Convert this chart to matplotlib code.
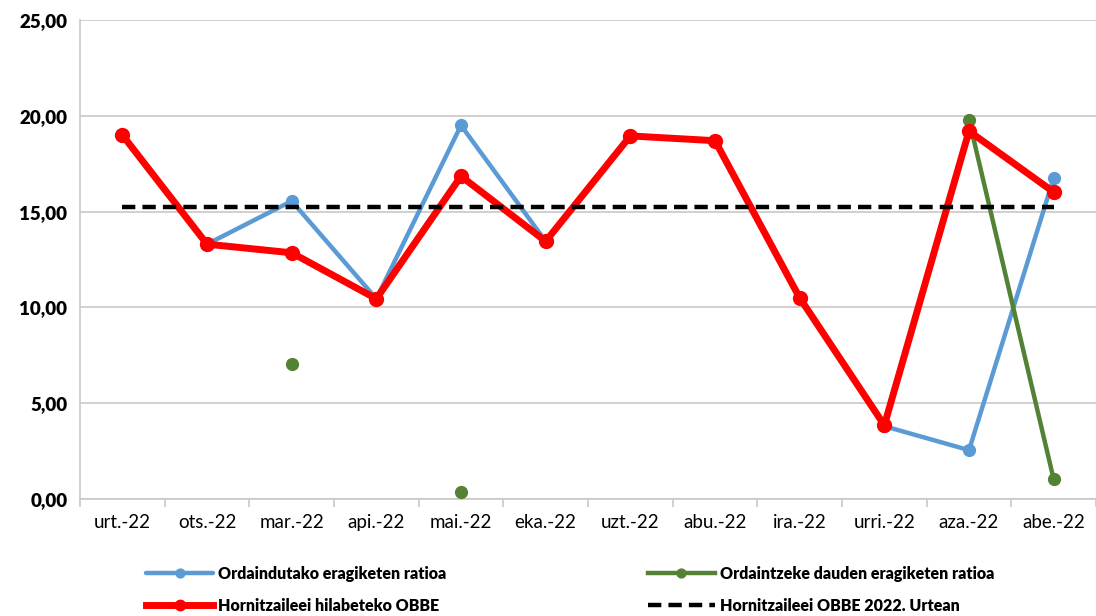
import numpy as np
import matplotlib
matplotlib.use("Agg")
import matplotlib.pyplot as plt

months = ["urt.-22", "ots.-22", "mar.-22", "api.-22", "mai.-22", "eka.-22",
          "uzt.-22", "abu.-22", "ira.-22", "urri.-22", "aza.-22", "abe.-22"]
ordaindutako = [19.0, 13.3, 15.55, 10.45, 19.5, 13.45, 18.95, 18.7, 10.5, 3.8, 2.55, 16.75]
ordaintzeke = [np.nan, np.nan, 7.05, np.nan, 0.37, np.nan, np.nan, np.nan, np.nan, np.nan, 19.8, 1.03]
hilabeteko = [19.0, 13.3, 12.85, 10.45, 16.85, 13.45, 18.95, 18.7, 10.5, 3.85, 19.2, 16.02]
urtean = [15.22] * 12
yticks = [0, 5, 10, 15, 20, 25]
ytick_labels = ["0,00", "5,00", "10,00", "15,00", "20,00", "25,00"]

plt.rcParams['font.family'] = ['Lato', 'DejaVu Sans']

fig = plt.figure(figsize=(10.96, 6.16), dpi=100)
ax = fig.add_axes([80/1096, 1-499/616, 1-80/1096, (499-20)/616])

x = np.arange(len(months))
grid_c = "#c8c8c8"

l1, = ax.plot(x, ordaindutako, color="#5b9bd5", lw=3.2, marker="o", ms=8.5,
              solid_capstyle="round", zorder=3, label="Ordaindutako eragiketen ratioa")
l2, = ax.plot(x, ordaintzeke, color="#548235", lw=3.2, marker="o", ms=8.5,
              zorder=4, label="Ordaintzeke dauden eragiketen ratioa")
l3, = ax.plot(x, hilabeteko, color="#ff0000", lw=5, marker="o", ms=10,
              zorder=5, label="Hornitzaileei hilabeteko OBBE")
l4, = ax.plot(x, urtean, color="black", lw=3.2, ls=(0, (3, 1.6)),
              zorder=6, label="Hornitzaileei OBBE 2022. Urtean")

ax.set_xlim(-0.5, 11.5)
ax.set_ylim(0, 25)
ax.set_yticks(yticks)
ax.set_yticklabels(ytick_labels, fontsize=13.5, fontweight="heavy")
ax.set_xticks(x)
ax.set_xticklabels(months, fontsize=13.5)
ax.set_xticks(np.arange(-0.5, 12, 1), minor=True)
ax.tick_params(axis="x", which="major", length=0, pad=11)
ax.tick_params(axis="x", which="minor", length=6, color=grid_c, width=1.2)
ax.tick_params(axis="y", length=0, pad=9)
ax.yaxis.grid(True, color=grid_c, lw=1.2)
ax.set_axisbelow(True)
for s in ["top", "right"]:
    ax.spines[s].set_visible(False)
ax.spines["left"].set_color(grid_c)
ax.spines["left"].set_linewidth(1.2)
ax.spines["bottom"].set_color(grid_c)
ax.spines["bottom"].set_linewidth(1.2)

leg = fig.legend(handles=[l1, l3, l2, l4], ncol=2, loc="lower left",
                 bbox_to_anchor=(132/1096, -0.02), frameon=False,
                 prop={"weight": "heavy", "size": 11.5}, handlelength=4.2,
                 handletextpad=0.3, columnspacing=12.6, labelspacing=1.0,
                 markerscale=0.75)

fig.savefig("out.png", dpi=100)
